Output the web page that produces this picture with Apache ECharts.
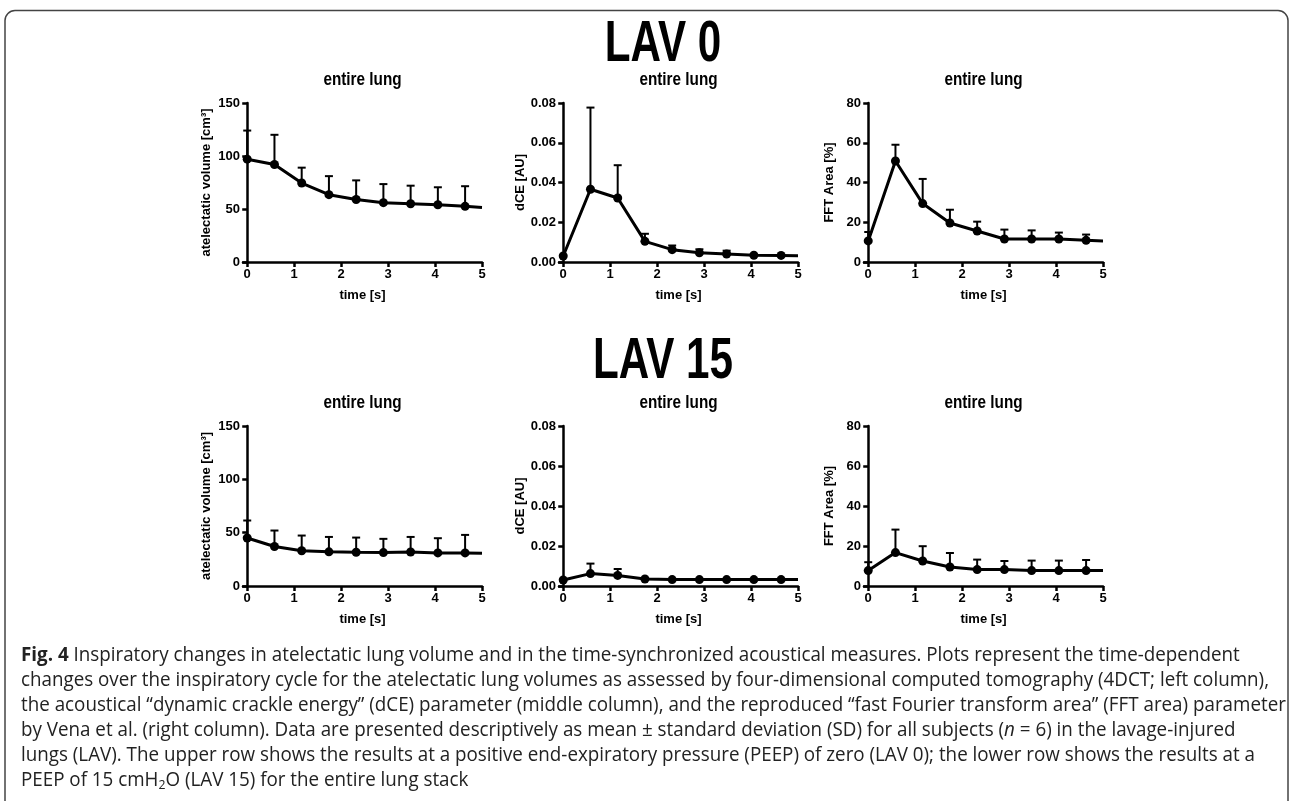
<!DOCTYPE html>
<html>
<head>
<meta charset="utf-8">
<script src="https://cdn.jsdelivr.net/npm/echarts@6/dist/echarts.min.js"></script>
<style>
html,body{margin:0;padding:0;background:#fff;}
#chart{width:1290px;height:801px;}
</style>
</head>
<body>
<div id="chart"></div>
<script>
// ---- data ----
const times = [0, 0.58, 1.16, 1.74, 2.32, 2.9, 3.48, 4.06, 4.64, 5];
const xTicks = [0, 1, 2, 3, 4, 5];

const lav0Atel    = [97, 92, 74.5, 63.5, 59, 56, 55, 54, 52.5, 51.5];
const lav0AtelTop = [124, 120, 89, 81, 77, 73.5, 72, 70.5, 71.5, null];
const lav0Dce     = [0.003, 0.0366, 0.0322, 0.0104, 0.0062, 0.0046, 0.004, 0.0034, 0.0033, 0.0031];
const lav0DceTop  = [null, 0.0777, 0.0487, 0.0142, 0.0083, 0.0064, 0.0057, null, null, null];
const lav0Fft     = [10.6, 50.8, 29.4, 19.6, 15.6, 11.6, 11.6, 11.6, 10.9, 10.6];
const lav0FftTop  = [15.1, 59, 41.8, 26.3, 20.3, 16.3, 15.9, 14.8, 13.8, null];

const lav15Atel    = [45, 37, 33, 32, 31.6, 31.3, 31.9, 31, 31, 30.7];
const lav15AtelTop = [61.4, 52, 47.3, 46, 45.4, 44.2, 46, 44.8, 47.9, null];
const lav15Dce     = [0.003, 0.0062, 0.0053, 0.0035, 0.0032, 0.0032, 0.0032, 0.0032, 0.0032, 0.0032];
const lav15DceTop  = [null, 0.0112, 0.0085, null, null, null, null, null, null, null];
const lav15Fft     = [7.7, 16.7, 12.5, 9.5, 8.2, 8.2, 7.7, 7.7, 7.7, 7.7];
const lav15FftTop  = [11.9, 28.2, 19.9, 16.5, 13.2, 12.5, 12.7, 12.7, 13.0, null];

const rowTitles = ['LAV 0', 'LAV 15'];
const panelTitle = 'entire lung';
const xName = 'time [s]';
const yNames = ['atelectatic volume [cm³]', 'dCE [AU]', 'FFT Area [%]'];
const yMax = [150, 0.08, 80];
const yInterval = [50, 0.02, 20];

const captionLines = [
  '{b|Fig. 4} Inspiratory changes in atelectatic lung volume and in the time-synchronized acoustical measures. Plots represent the time-dependent',
  'changes over the inspiratory cycle for the atelectatic lung volumes as assessed by four-dimensional computed tomography (4DCT; left column),',
  'the acoustical \u201cdynamic crackle energy\u201d (dCE) parameter (middle column), and the reproduced \u201cfast Fourier transform area\u201d (FFT area) parameter',
  'by Vena et al. (right column). Data are presented descriptively as mean \u00b1 standard deviation (SD) for all subjects ({i|n} = 6) in the lavage-injured',
  'lungs (LAV). The upper row shows the results at a positive end-expiratory pressure (PEEP) of zero (LAV 0); the lower row shows the results at a',
  'PEEP of 15 cmH{s|2}O (LAV 15) for the entire lung stack'
];

// ---- layout ----
const FONT = '"Liberation Sans", Arial, Helvetica, sans-serif';
const CAPFONT = '"Open Sans", "Noto Sans", sans-serif';
const colLeft = [243, 559, 864];
const rowTop = [103, 426];
const gridW = 239, gridH = 159;
const nameGaps = [30, 32, 28];

const panels = [
  {r:0, c:0, mean: lav0Atel, top: lav0AtelTop},
  {r:0, c:1, mean: lav0Dce, top: lav0DceTop},
  {r:0, c:2, mean: lav0Fft, top: lav0FftTop},
  {r:1, c:0, mean: lav15Atel, top: lav15AtelTop},
  {r:1, c:1, mean: lav15Dce, top: lav15DceTop},
  {r:1, c:2, mean: lav15Fft, top: lav15FftTop}
];

function errRender(params, api) {
  const x = api.value(0), top = api.value(1), mean = api.value(2);
  const p0 = api.coord([x, mean]);
  const p1 = api.coord([x, top]);
  const st = {stroke: '#000', lineWidth: 2};
  return {
    type: 'group',
    children: [
      {type: 'line', shape: {x1: p0[0], y1: p0[1], x2: p1[0], y2: p1[1]}, style: st},
      {type: 'line', shape: {x1: p1[0] - 4, y1: p1[1], x2: p1[0] + 4, y2: p1[1]}, style: st}
    ]
  };
}

const grids = [], xAxes = [], yAxes = [], series = [], graphics = [];
const axisLine = {show: true, lineStyle: {color: '#000', width: 2.5}};
const axisTick = {show: true, inside: false, length: 5, lineStyle: {color: '#000', width: 2.5}};
const labelStyle = {color: '#000', fontFamily: FONT, fontWeight: 'bold', fontSize: 13};
const nameStyle = {color: '#000', fontFamily: FONT, fontWeight: 'bold', fontSize: 13};

panels.forEach((p, i) => {
  grids.push({left: colLeft[p.c], top: rowTop[p.r], width: gridW, height: gridH + p.r});
  xAxes.push({
    type: 'value', gridIndex: i, min: -0.09, max: 5,
    axisLine: axisLine,
    axisTick: Object.assign({customValues: xTicks}, axisTick),
    axisLabel: Object.assign({customValues: xTicks, margin: 6}, labelStyle),
    splitLine: {show: false},
    name: xName, nameLocation: 'middle', nameGap: 27, nameTextStyle: nameStyle
  });
  yAxes.push({
    type: 'value', gridIndex: i, min: 0, max: yMax[p.c], interval: yInterval[p.c],
    axisLine: axisLine, axisTick: axisTick,
    axisLabel: Object.assign({margin: 3, formatter: p.c === 1 ? (v => v.toFixed(2)) : (v => String(v))}, labelStyle),
    splitLine: {show: false},
    name: yNames[p.c], nameLocation: 'middle', nameGap: nameGaps[p.c], nameTextStyle: nameStyle,
    nameMoveOverlap: false
  });
  const last = times.length - 1;
  series.push({
    type: 'custom', xAxisIndex: i, yAxisIndex: i, z: 2,
    renderItem: errRender,
    encode: {x: 0, y: 1},
    data: times.map((t, k) => [t, p.top[k], p.mean[k]]).filter(d => d[1] != null),
    silent: true
  });
  series.push({
    type: 'line', xAxisIndex: i, yAxisIndex: i, z: 3,
    data: times.map((t, k) => [t, p.mean[k]]),
    symbol: 'circle',
    symbolSize: (val, params) => params.dataIndex === last ? 0 : 9,
    showSymbol: true,
    lineStyle: {color: '#000', width: 3},
    itemStyle: {color: '#000'},
    clip: false
  });
  graphics.push({
    type: 'text', x: colLeft[p.c] + gridW / 2, y: [80, 403][p.r], scaleX: 0.85,
    style: {text: panelTitle, textAlign: 'center', textVerticalAlign: 'middle',
            fill: '#000', fontFamily: FONT, fontWeight: 'bold', fontSize: 18}
  });
});

// row titles
rowTitles.forEach((t, r) => {
  graphics.push({
    type: 'text', x: 663, y: [45, 362][r], scaleX: 0.74,
    style: {text: t, textAlign: 'center', textVerticalAlign: 'middle',
            fill: '#000', fontFamily: FONT, fontWeight: 'bold', fontSize: 57}
  });
});

// border
graphics.push({
  type: 'rect', shape: {x: 5, y: 10.5, width: 1283, height: 840, r: 10},
  style: {fill: 'none', stroke: '#444', lineWidth: 1.5}, z: -1
});

// caption
const capSize = 20;
const ctx = document.createElement('canvas').getContext('2d');
ctx.font = capSize + 'px ' + CAPFONT;
const capScale = 1248 / ctx.measureText(captionLines[1]).width;
const capY = [655, 680, 705, 730, 755, 780];
const rich = {
  b: {fontFamily: CAPFONT, fontSize: capSize, fontWeight: 'bold', fill: '#222'},
  i: {fontFamily: CAPFONT, fontSize: capSize, fontStyle: 'italic', fill: '#222'},
  s: {fontFamily: CAPFONT, fontSize: 13, fill: '#222', verticalAlign: 'bottom', lineHeight: 13}
};
captionLines.forEach((line, k) => {
  graphics.push({
    type: 'text', x: 21, y: capY[k], scaleX: capScale,
    style: {text: line, rich: rich, textAlign: 'left', textVerticalAlign: 'middle',
            fill: '#222', fontFamily: CAPFONT, fontSize: capSize, lineHeight: 24}
  });
});

const chart = echarts.init(document.getElementById('chart'), null, {renderer: 'canvas'});
chart.setOption({
  backgroundColor: '#fff',
  animation: false,
  grid: grids, xAxis: xAxes, yAxis: yAxes, series: series,
  graphic: {elements: graphics}
});
</script>
</body>
</html>
